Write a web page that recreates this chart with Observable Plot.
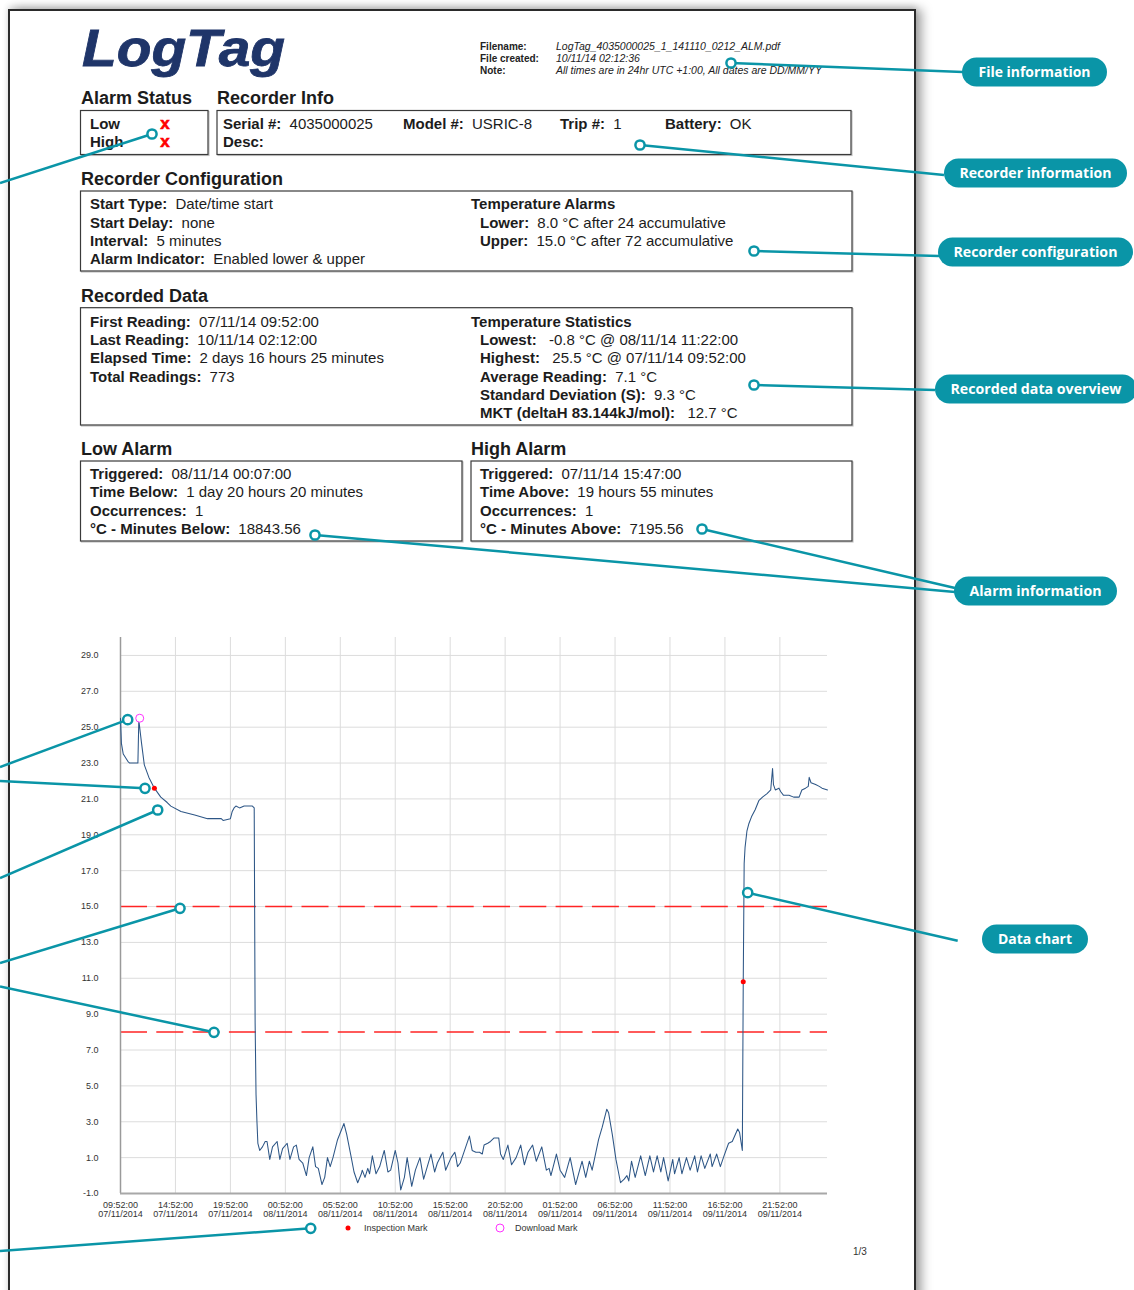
<!DOCTYPE html>
<html><head><meta charset="utf-8">
<script src="https://cdn.jsdelivr.net/npm/d3@7"></script>
<script src="https://cdn.jsdelivr.net/npm/@observablehq/plot@0.6"></script>
<style>
html,body{margin:0;padding:0;background:#fff;}
body{width:1134px;height:1290px;position:relative;overflow:hidden;font-family:"Liberation Sans",Arial,sans-serif;}
#frame{position:absolute;left:8px;top:9px;width:904px;height:1400px;border:2.5px solid #2a2a2a;border-bottom:none;border-top-width:2px;background:#fff;box-shadow:6px 0 10px rgba(0,0,0,.35),0 -3px 6px rgba(0,0,0,.12);}
.layer{position:absolute;left:0;top:0;}
#chart svg{background:transparent;}
</style></head><body>
<div id="frame"></div>
<svg id="report" class="layer" width="1134" height="1290"></svg>
<div id="chart" class="layer" style="top:620px"></div>
<svg id="callouts" class="layer" width="1134" height="1290"></svg>
<script>
// ---------- chart data ----------
const readingTimes = [
"07/11 09:52","07/11 09:57","07/11 10:07","07/11 10:32","07/11 10:42","07/11 11:27","07/11 11:32","07/11 11:47","07/11 12:02","07/11 12:27",
"07/11 12:57","07/11 13:32","07/11 14:07","07/11 14:27","07/11 15:22","07/11 16:37","07/11 17:47","07/11 19:02","07/11 19:12","07/11 19:52",
"07/11 20:02","07/11 20:12","07/11 20:22","07/11 20:42","07/11 21:07","07/11 21:52","07/11 22:02","07/11 22:07","07/11 22:12","07/11 22:17",
"07/11 22:22","07/11 22:32","07/11 22:47","07/11 23:02","07/11 23:12","07/11 23:27","07/11 23:42",
"08/11 00:07","08/11 00:22","08/11 00:37","08/11 01:02","08/11 01:17","08/11 01:37","08/11 01:52","08/11 02:07","08/11 02:27","08/11 02:47",
"08/11 03:02","08/11 03:22","08/11 03:37","08/11 03:52","08/11 04:12","08/11 04:27","08/11 04:42","08/11 04:57","08/11 05:12","08/11 05:37",
"08/11 06:12","08/11 06:27","08/11 06:52","08/11 07:07","08/11 07:27","08/11 07:47","08/11 07:52","08/11 08:07","08/11 08:22","08/11 08:32",
"08/11 08:47","08/11 09:07","08/11 09:27","08/11 09:52","08/11 10:12","08/11 10:27","08/11 10:52","08/11 11:07","08/11 11:22","08/11 11:42",
"08/11 11:57","08/11 12:22","08/11 12:42","08/11 13:07","08/11 13:27","08/11 13:47","08/11 14:07","08/11 14:27","08/11 14:42","08/11 15:12",
"08/11 15:27","08/11 15:57","08/11 16:17","08/11 16:22","08/11 16:32","08/11 16:47","08/11 16:57","08/11 17:17","08/11 17:37","08/11 17:52",
"08/11 18:12","08/11 18:32","08/11 18:47","08/11 18:57","08/11 19:17","08/11 19:32","08/11 19:52","08/11 20:17","08/11 20:27","08/11 20:42",
"08/11 21:07","08/11 21:27","08/11 21:52","08/11 22:17","08/11 22:37","08/11 22:57","08/11 23:22","08/11 23:42",
"09/11 00:12","09/11 00:37","09/11 00:52","09/11 01:02","09/11 01:32","09/11 01:52","09/11 02:17","09/11 02:47","09/11 03:17","09/11 03:52",
"09/11 04:12","09/11 04:32","09/11 04:47","09/11 05:22","09/11 05:42","09/11 06:07","09/11 06:17","09/11 06:37","09/11 06:57","09/11 07:22",
"09/11 07:42","09/11 07:57","09/11 08:07","09/11 08:22","09/11 08:42","09/11 09:12","09/11 09:37","09/11 10:02","09/11 10:22","09/11 10:42",
"09/11 11:02","09/11 11:17","09/11 11:42","09/11 12:07","09/11 12:17","09/11 12:42","09/11 12:57","09/11 13:22","09/11 13:42","09/11 14:07",
"09/11 14:22","09/11 14:42","09/11 15:02","09/11 15:32","09/11 15:42","09/11 16:07","09/11 16:27","09/11 16:47","09/11 17:12","09/11 17:32",
"09/11 18:02","09/11 18:12","09/11 18:27","09/11 18:32","09/11 18:37","09/11 18:42","09/11 18:52","09/11 19:02","09/11 19:17","09/11 19:37",
"09/11 19:57","09/11 20:17","09/11 20:42","09/11 21:02","09/11 21:12","09/11 21:17","09/11 21:27","09/11 21:47","09/11 21:57","09/11 22:12",
"09/11 22:42","09/11 23:07","09/11 23:37","09/11 23:52",
"10/11 00:12","10/11 00:27","10/11 00:32","10/11 00:42","10/11 01:07","10/11 01:27","10/11 01:42","10/11 02:12"];
const readingTemps = [
25.5,24.1,23.5,23.1,23.0,23.0,25.4,24.1,22.9,22.2,
21.6,21.1,20.8,20.6,20.3,20.1,19.9,19.9,19.8,19.9,
20.3,20.5,20.6,20.5,20.6,20.6,20.5,8.5,4.5,3.0,
1.8,1.4,1.6,1.9,1.9,0.9,1.6,
1.9,0.9,1.5,1.8,0.9,1.6,1.7,0.9,0.7,0.0,
1.0,1.6,0.5,0.4,-0.5,-0.1,1.0,0.5,1.0,2.0,
2.9,2.3,1.0,0.2,-0.4,0.1,0.3,-0.1,0.4,0.1,
1.1,0.1,0.5,1.4,0.2,0.3,1.4,0.7,-0.8,-0.1,
1.0,-0.6,0.3,1.0,-0.2,0.5,1.2,0.2,0.7,1.3,
0.3,1.0,1.3,1.1,0.5,0.7,1.0,1.6,2.2,1.4,
1.3,1.3,1.2,1.7,1.8,1.9,2.1,2.1,1.2,0.9,
1.7,0.6,1.0,1.7,0.6,1.3,1.7,0.8,
1.6,0.3,0.4,0.0,1.2,0.3,-0.1,1.0,-0.5,0.8,
-0.1,0.8,0.3,2.0,2.7,3.7,3.5,2.3,0.9,-0.4,
-0.2,0.0,-0.3,0.8,-0.1,1.1,0.0,1.1,0.2,1.1,
0.2,1.0,-0.3,0.9,0.1,1.0,0.1,1.0,0.3,1.1,
0.2,1.1,0.4,1.2,0.5,1.2,0.5,1.1,1.8,1.9,
2.6,2.4,1.4,10.8,17.4,18.3,19.2,19.6,20.0,20.4,
20.9,21.1,21.3,21.5,22.7,21.8,21.5,21.6,21.4,21.2,
21.2,21.1,21.1,21.5,
21.6,21.7,22.2,21.9,21.8,21.7,21.6,21.5];
const inspectionTimes = ["07/11 12:57","09/11 18:32"];
const inspectionTemps = [21.6, 10.8];
const downloadTimes = ["07/11 11:37"];
const downloadTemps = [25.5];
const alarmLimits = [8.0, 15.0];
const xTickTimes = ["07/11 09:52","07/11 14:52","07/11 19:52","08/11 00:52","08/11 05:52","08/11 10:52","08/11 15:52",
                    "08/11 20:52","09/11 01:52","09/11 06:52","09/11 11:52","09/11 16:52","09/11 21:52"];
const yTicks = [-1,1,3,5,7,9,11,13,15,17,19,21,23,25,27,29];
const xDomain = ["07/11 09:52","10/11 02:12"];
const yDomain = [-1, 30];

const parseT = s => { const [d,t] = s.split(" "); const [dd,mm] = d.split("/"); const [hh,mi] = t.split(":");
  return new Date(Date.UTC(2014, +mm-1, +dd, +hh, +mi)); };
const p2 = n => String(n).padStart(2,"0");
const fmtTick = d => `${p2(d.getUTCHours())}:${p2(d.getUTCMinutes())}:00\n${p2(d.getUTCDate())}/${p2(d.getUTCMonth()+1)}/${d.getUTCFullYear()}`;

const readings = readingTimes.map((t,i) => ({t: parseT(t), v: readingTemps[i]}));
const inspections = inspectionTimes.map((t,i) => ({t: parseT(t), v: inspectionTemps[i]}));
const downloads = downloadTimes.map((t,i) => ({t: parseT(t), v: downloadTemps[i]}));
const xTicks = xTickTimes.map(parseT);
const x0 = parseT(xDomain[0]);

const chart = Plot.plot({
  width: 840, height: 620,
  marginLeft: 120, marginRight: 13, marginTop: 17, marginBottom: 47,
  style: {fontFamily: '"Liberation Sans", Arial, sans-serif', fontSize: "9px", color: "#333", background: "transparent"},
  x: {type: "utc", domain: xDomain.map(parseT), ticks: xTicks, tickFormat: fmtTick, tickSize: 0, tickPadding: 8, label: null},
  y: {domain: yDomain, ticks: yTicks, tickFormat: d => d.toFixed(1), tickSize: 0, tickPadding: 22, label: null},
  marks: [
    Plot.gridX(xTicks, {stroke: "#dcdcdc", strokeOpacity: 1, strokeWidth: 1}),
    Plot.gridY(yTicks, {stroke: "#dcdcdc", strokeOpacity: 1, strokeWidth: 1}),
    Plot.ruleY(alarmLimits, {stroke: "#ff2424", strokeWidth: 1.5, strokeDasharray: "27,9.3"}),
    Plot.ruleX([x0], {stroke: "#9a9a9a", strokeWidth: 1.5}),
    Plot.ruleY([yDomain[0]], {stroke: "#a8a8a8", strokeWidth: 2}),
    Plot.lineY(readings, {x: "t", y: "v", stroke: "#2d5686", strokeWidth: 1.05}),
    Plot.dot(inspections, {x: "t", y: "v", fill: "#ff0000", r: 2.5}),
    Plot.dot(downloads, {x: "t", y: "v", stroke: "#ff33ff", fill: "white", r: 4, strokeWidth: 1})
  ]
});
document.getElementById("chart").appendChild(chart);

// ---------- report page ----------
const rep = d3.select("#report");
const INK = "#1c1c1c";
function heading(x, y, s) {
  rep.append("text").attr("x", x).attr("y", y).attr("font-size", 18).attr("font-weight", "bold").attr("fill", INK).text(s);
}
function box(x1, y1, x2, y2) {
  rep.append("rect").attr("x", x1 + 1).attr("y", y1 + 1).attr("width", x2 - x1).attr("height", y2 - y1).attr("fill", "none").attr("stroke", "#c4c4c4").attr("stroke-width", 1.2);
  rep.append("rect").attr("x", x1).attr("y", y1).attr("width", x2 - x1).attr("height", y2 - y1).attr("fill", "white").attr("stroke", "#3a3a3a").attr("stroke-width", 1.2);
}
function row(x, y, label, value, size = 15) {
  const t = rep.append("text").attr("x", x).attr("y", y).attr("font-size", size).attr("fill", INK).style("white-space", "pre");
  t.append("tspan").attr("font-weight", "bold").text(label);
  if (value != null) t.append("tspan").attr("dx", 4).text(" " + value);
}
// logo
rep.append("text").attr("x", 82).attr("y", 66).attr("font-size", 52).attr("font-weight", "bold").attr("font-style", "italic")
  .attr("fill", "#1f3569").attr("stroke", "#1f3569").attr("stroke-width", 0.8)
  .attr("textLength", 203).attr("lengthAdjust", "spacingAndGlyphs").text("LogTag");
// file info
[["Filename:", "LogTag_4035000025_1_141110_0212_ALM.pdf", 49.5], ["File created:", "10/11/14 02:12:36", 61.5],
 ["Note:", "All times are in 24hr UTC +1:00, All dates are DD/MM/YY", 73.5]].forEach(([l, v, y]) => {
  rep.append("text").attr("x", 480).attr("y", y).attr("font-size", 10).attr("font-weight", "bold").attr("fill", "#222").text(l);
  rep.append("text").attr("x", 556).attr("y", y).attr("font-size", 10.5).attr("font-style", "italic").attr("fill", "#222").text(v);
});
heading(81, 104.3, "Alarm Status");
heading(217, 104.3, "Recorder Info");
box(80.5, 110.5, 208, 154.5);
row(90, 129.3, "Low"); row(90, 147, "High");
[129.3, 147].forEach(y => rep.append("text").attr("x", 165).attr("y", y).attr("text-anchor", "middle").attr("font-size", 17)
  .attr("font-weight", "bold").attr("fill", "#ff0000").attr("stroke", "#ff0000").attr("stroke-width", 0.6).text("x"));
box(217, 110.5, 851, 154.5);
row(223, 129.3, "Serial #:", "4035000025");
row(403, 129.3, "Model #:", "USRIC-8");
row(560, 129.3, "Trip #:", "1");
row(665, 129.3, "Battery:", "OK");
row(223, 147.3, "Desc:");

heading(81, 185, "Recorder Configuration");
box(80.5, 191, 852, 271);
row(90, 209.3, "Start Type:", "Date/time start");
row(90, 227.7, "Start Delay:", "none");
row(90, 246, "Interval:", "5 minutes");
row(90, 264.3, "Alarm Indicator:", "Enabled lower & upper");
row(471, 209.3, "Temperature Alarms");
row(480, 227.7, "Lower:", "8.0 °C after 24 accumulative");
row(480, 246, "Upper:", "15.0 °C after 72 accumulative");

heading(81, 301.7, "Recorded Data");
box(80.5, 307.7, 852, 425);
row(90, 326.7, "First Reading:", "07/11/14 09:52:00");
row(90, 345, "Last Reading:", "10/11/14 02:12:00");
row(90, 363.3, "Elapsed Time:", "2 days 16 hours 25 minutes");
row(90, 381.7, "Total Readings:", "773");
row(471, 326.7, "Temperature Statistics");
row(480, 345, "Lowest:", " -0.8 °C @ 08/11/14 11:22:00");
row(480, 363.3, "Highest:", " 25.5 °C @ 07/11/14 09:52:00");
row(480, 381.7, "Average Reading:", "7.1 °C");
row(480, 400, "Standard Deviation (S):", "9.3 °C");
row(480, 418.3, "MKT (deltaH 83.144kJ/mol):", " 12.7 °C");

heading(81, 455, "Low Alarm");
heading(471, 455, "High Alarm");
box(80.5, 461, 462, 541);
box(471, 461, 852, 541);
row(90, 479, "Triggered:", "08/11/14 00:07:00");
row(90, 497.3, "Time Below:", "1 day 20 hours 20 minutes");
row(90, 515.7, "Occurrences:", "1");
row(90, 534, "°C - Minutes Below:", "18843.56");
row(480, 479, "Triggered:", "07/11/14 15:47:00");
row(480, 497.3, "Time Above:", "19 hours 55 minutes");
row(480, 515.7, "Occurrences:", "1");
row(480, 534, "°C - Minutes Above:", "7195.56");

// legend + page number
rep.append("circle").attr("cx", 348).attr("cy", 1228).attr("r", 2.5).attr("fill", "#ff0000");
rep.append("text").attr("x", 364).attr("y", 1231).attr("font-size", 9).attr("fill", "#333").text("Inspection Mark");
rep.append("circle").attr("cx", 500).attr("cy", 1228).attr("r", 4).attr("fill", "none").attr("stroke", "#ff33ff").attr("stroke-width", 1);
rep.append("text").attr("x", 515).attr("y", 1231).attr("font-size", 9).attr("fill", "#333").text("Download Mark");
rep.append("text").attr("x", 853).attr("y", 1255).attr("font-size", 10).attr("fill", "#333").text("1/3");

// ---------- callouts ----------
const co = d3.select("#callouts");
const TEAL = "#0a95a7";
const leaders = [
  [0,183,152,134],[731,63,963,72],[640,145,944,175],[754,251,939,256],[754,385,935,390],
  [315,535,955,592],[702,529,955,588],[0,767,127.7,719.7],[0,781,145,788.3],[0,878,157.7,810],
  [0,963,180,908.3],[0,986.5,214,1032.3],[0,1251,310.7,1228.3],[747.7,892.7,957.7,940.7]];
leaders.forEach(([a,b,c,d]) => co.append("line").attr("x1",a).attr("y1",b).attr("x2",c).attr("y2",d)
  .attr("stroke",TEAL).attr("stroke-width",2.5));
const rings = [[152,134],[731,63],[640,145],[754,251],[754,385],[315,535],[702,529],
  [127.7,719.7],[145,788.3],[157.7,810],[180,908.3],[214,1032.3],[310.7,1228.3],[747.7,892.7]];
rings.forEach(([x,y]) => co.append("circle").attr("cx",x).attr("cy",y).attr("r",4.6).attr("fill","white")
  .attr("stroke",TEAL).attr("stroke-width",2.5));
const pills = [
  ["File information", 962, 1107, 72, 112], ["Recorder information", 944, 1127, 173, 152],
  ["Recorder configuration", 938, 1133, 252, 164], ["Recorded data overview", 935, 1137, 389, 171],
  ["Alarm information", 954, 1117, 591, 132], ["Data chart", 982, 1088, 939, 74]];
pills.forEach(([s,x1,x2,cy,tl]) => {
  co.append("rect").attr("x",x1).attr("y",cy-14.5).attr("width",x2-x1).attr("height",29).attr("rx",14.5)
    .attr("fill",TEAL);
  co.append("text").attr("x",(x1+x2)/2).attr("y",cy+5.3).attr("text-anchor","middle").attr("font-family",'"Open Sans", sans-serif')
    .attr("font-size",15).attr("font-weight","bold").attr("fill","white").attr("textLength",tl).attr("lengthAdjust","spacingAndGlyphs").text(s);
});
</script></body></html>
